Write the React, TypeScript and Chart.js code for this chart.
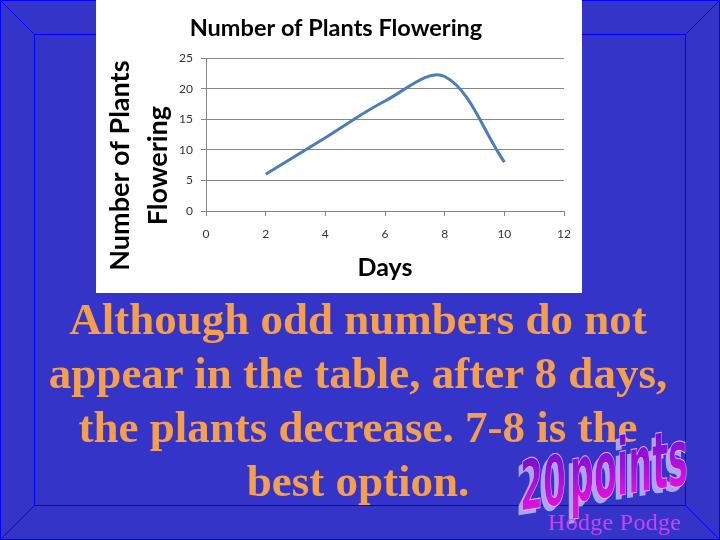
import React, { useEffect, useRef } from "react";
import { Chart, registerables } from "chart.js";

Chart.register(...registerables);

// ---- data ----
const days = [2, 4, 6, 8, 10];
const plantsFlowering = [6, 12, 18, 22, 8];
const xTickMin = 0;
const xTickMax = 12;
const xTickStep = 2;
const yTickMin = 0;
const yTickMax = 25;
const yTickStep = 5;
const chartTitle = "Number of Plants Flowering";
const yTitleLines = ["Number of Plants", "Flowering"];
const xTitle = "Days";
const slideLines = [
  "Although odd numbers do not",
  "appear in the table, after 8 days,",
  "the plants decrease. 7-8 is the",
  "best option.",
];
const pointsNumber = "20";
const pointsWord = "points";
const footerLabel = "Hodge Podge";

const FONT = "Lato, 'Open Sans', 'Liberation Sans', sans-serif";

const yTitlePlugin = {
  id: "yTitleTwoLines",
  afterDraw(chart: any) {
    const { ctx, chartArea } = chart;
    const cy = (chartArea.top + chartArea.bottom) / 2 + 31;
    const xs = [chartArea.left - 86, chartArea.left - 48];
    ctx.save();
    ctx.font = `bold 27px ${FONT}`;
    ctx.fillStyle = "#000000";
    ctx.textAlign = "center";
    ctx.textBaseline = "middle";
    yTitleLines.forEach((line, i) => {
      ctx.save();
      ctx.translate(xs[i], cy);
      ctx.rotate(-Math.PI / 2);
      ctx.fillText(line, 0, 0);
      ctx.restore();
    });
    ctx.restore();
  },
};

function PlantsChart() {
  const ref = useRef<HTMLCanvasElement | null>(null);
  useEffect(() => {
    if (!ref.current) return;
    const chart = new Chart(ref.current, {
      type: "scatter",
      data: {
        datasets: [
          {
            label: "Plants",
            data: days.map((d, i) => ({ x: d, y: plantsFlowering[i] })),
            showLine: true,
            borderColor: "#4A7EBB",
            backgroundColor: "#4A7EBB",
            borderWidth: 3,
            pointRadius: 0,
            tension: 0.35,
          },
        ],
      },
      options: {
        animation: false,
        responsive: false,
        layout: { padding: { left: 10, right: 16, top: 0, bottom: 0 } },
        plugins: {
          legend: { display: false },
          tooltip: { enabled: false },
          title: {
            display: true,
            text: chartTitle,
            color: "#000000",
            font: { family: FONT, size: 23.5, weight: "bold" },
            padding: { top: 14, bottom: 16 },
          },
        },
        scales: {
          x: {
            type: "linear",
            min: xTickMin,
            max: xTickMax,
            ticks: {
              stepSize: xTickStep,
              color: "#333333",
              font: { family: FONT, size: 12 },
              padding: 11,
            },
            grid: {
              drawOnChartArea: false,
              drawTicks: true,
              tickLength: 5,
              color: "#868686",
            },
            border: { display: true, color: "#868686" },
            title: {
              display: true,
              text: xTitle,
              color: "#000000",
              font: { family: FONT, size: 25, weight: "bold" },
              padding: { top: 0, bottom: 10 },
            },
            afterFit: (scale: any) => {
              scale.height = 82;
            },
          },
          y: {
            type: "linear",
            min: yTickMin,
            max: yTickMax,
            ticks: {
              stepSize: yTickStep,
              color: "#333333",
              font: { family: FONT, size: 12 },
              padding: 8,
            },
            grid: {
              drawTicks: true,
              tickLength: 5,
              color: "#868686",
            },
            border: { display: true, color: "#868686" },
            afterFit: (scale: any) => {
              scale.width = 100;
            },
          },
        },
      },
      plugins: [yTitlePlugin],
    });
    return () => chart.destroy();
  }, []);
  return <canvas ref={ref} width={486} height={293} style={{ display: "block", width: 486, height: 293 }} />;
}

function PointsArt() {
  const fam = "'DejaVu Sans', 'Liberation Sans', sans-serif";
  const layer = (dx: number, dy: number, fill: string, stroke?: string) => (
    <g transform={`translate(${dx},${dy})`} fill={fill} stroke={stroke || "none"} strokeWidth={stroke ? 1 : 0}>
      <text x={0} y={0} fontFamily={fam} fontWeight="bold" fontSize={70} textLength={46} lengthAdjust="spacingAndGlyphs">
        {pointsNumber}
      </text>
      <text x={50} y={0} fontFamily={fam} fontWeight="bold" fontSize={80} textLength={118} lengthAdjust="spacingAndGlyphs">
        {pointsWord}
      </text>
    </g>
  );
  return (
    <svg width={720} height={540} style={{ position: "absolute", left: 0, top: 0 }}>
      <defs>
        <linearGradient id="ptsGrad" x1="0" y1="-58" x2="0" y2="0" gradientUnits="userSpaceOnUse">
          <stop offset="0" stopColor="#6A10D0" />
          <stop offset="0.5" stopColor="#A010D8" />
          <stop offset="1" stopColor="#E010E0" />
        </linearGradient>
      </defs>
      <g transform="translate(520,511) skewY(-9)">
        {layer(-4, 4, "#A9A6F2")}
        {layer(0, 0, "url(#ptsGrad)", "#EAB0FF")}
      </g>
    </svg>
  );
}

export default function App() {
  return (
    <div
      style={{
        position: "absolute",
        left: 0,
        top: 0,
        width: 720,
        height: 540,
        background: "#3434C8",
        overflow: "hidden",
      }}
    >
      <svg width={720} height={540} style={{ position: "absolute", left: 0, top: 0 }}>
        <g stroke="#0000FF" strokeWidth={1} fill="none">
          <rect x={0.5} y={0.5} width={719} height={539} />
          <rect x={34.5} y={34.5} width={651} height={471} />
          <line x1={0} y1={0} x2={34.5} y2={34.5} />
          <line x1={720} y1={0} x2={685.5} y2={34.5} />
          <line x1={0} y1={540} x2={34.5} y2={505.5} />
          <line x1={720} y1={540} x2={685.5} y2={505.5} />
        </g>
      </svg>
      <div
        style={{
          position: "absolute",
          left: 96,
          top: 0,
          width: 486,
          height: 293,
          background: "#FFFFFF",
        }}
      >
        <PlantsChart />
      </div>
      <div
        style={{
          position: "absolute",
          left: 0,
          top: 292,
          width: 716,
          textAlign: "center",
          fontFamily: "'Liberation Serif', 'Times New Roman', serif",
          fontWeight: "bold",
          fontSize: 45,
          lineHeight: "54px",
          color: "#F59E4C",
          whiteSpace: "nowrap",
        }}
      >
        {slideLines.map((l, i) => (
          <div key={i}>{l}</div>
        ))}
      </div>
      <PointsArt />
      <div
        style={{
          position: "absolute",
          left: 548,
          top: 508,
          fontFamily: "'Liberation Serif', 'Times New Roman', serif",
          fontSize: 24,
          lineHeight: "28px",
          color: "#D040F0",
          whiteSpace: "nowrap",
          letterSpacing: 0.3,
        }}
      >
        {footerLabel}
      </div>
    </div>
  );
}
